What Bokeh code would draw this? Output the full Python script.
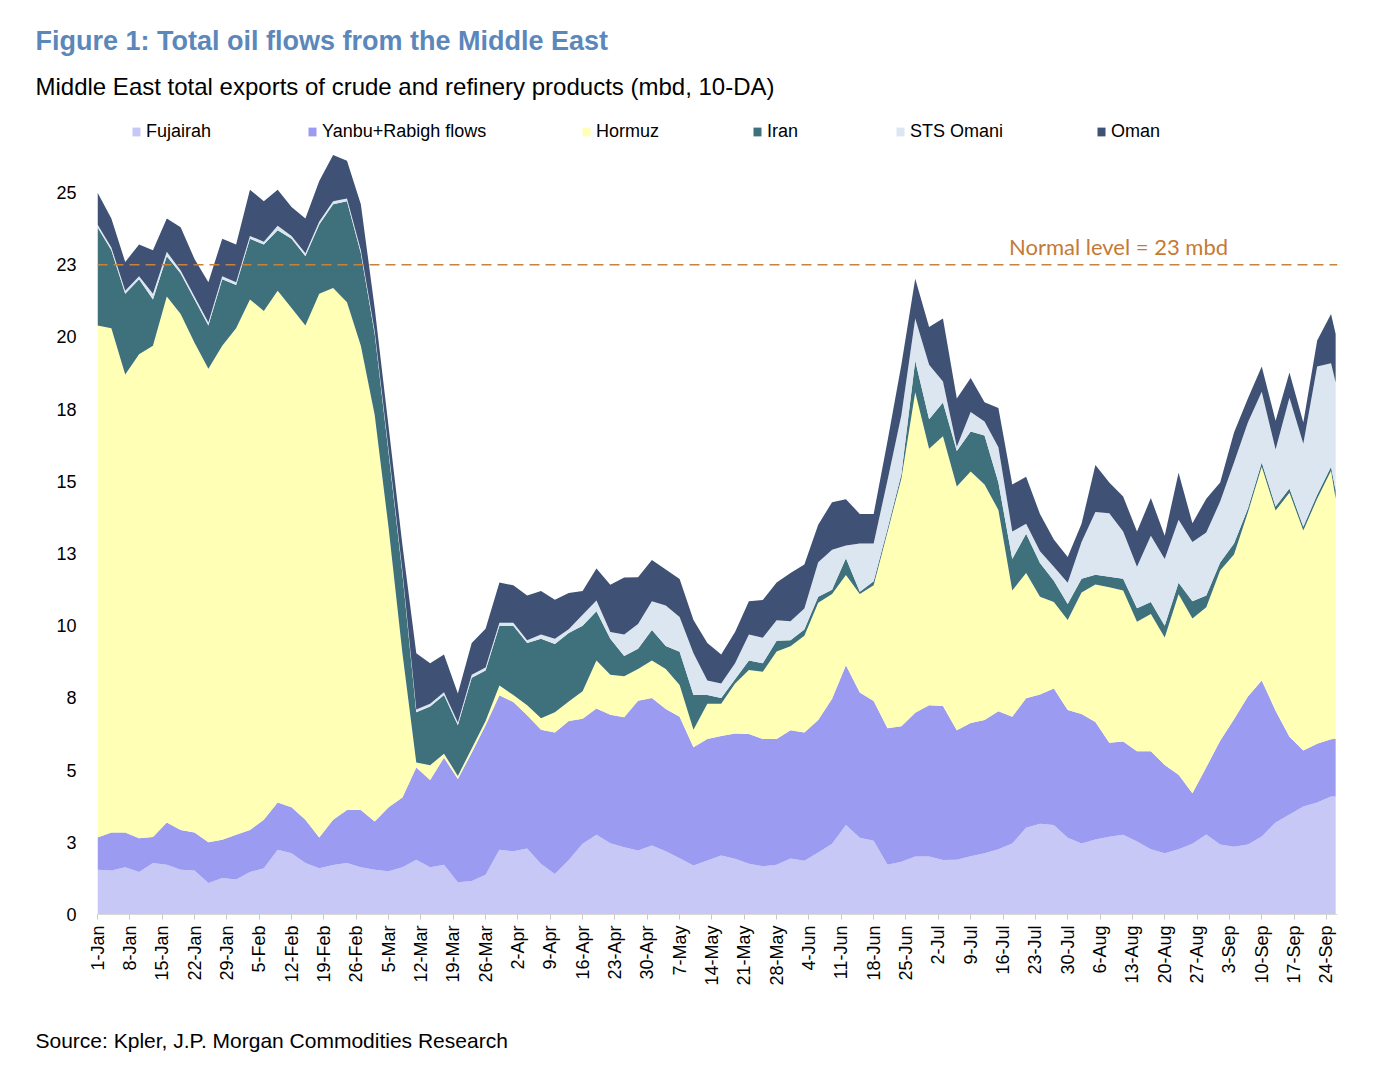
from math import pi
from bokeh.plotting import figure
from bokeh.models import (ColumnDataSource, Range1d, FixedTicker, Label, Legend,
                          LegendItem, Span, Title)
from bokeh.embed import file_html
from bokeh.resources import INLINE

# ---------------- data (mbd, 10-DA), every 3 days from 1-Jan ----------------
days = list(range(0, 268, 3)) + [268]   # days since 1-Jan

fujairah = [1.55, 1.52, 1.64, 1.47, 1.78, 1.72, 1.55, 1.52, 1.09, 1.26, 1.21, 1.47, 1.60, 2.24, 2.12, 1.78,
            1.60, 1.71, 1.78, 1.64, 1.55, 1.50, 1.64, 1.90, 1.64, 1.72, 1.12, 1.16, 1.38, 2.24, 2.19, 2.29,
            1.75, 1.40, 1.89, 2.45, 2.76, 2.47, 2.33, 2.22, 2.39, 2.19, 1.95, 1.70, 1.87, 2.04, 1.93, 1.76,
            1.67, 1.72, 1.94, 1.86, 2.15, 2.45, 3.10, 2.66, 2.55, 1.72, 1.83, 2.01, 2.01, 1.89, 1.90, 2.02,
            2.12, 2.26, 2.46, 3.00, 3.14, 3.10, 2.66, 2.46, 2.60, 2.69, 2.76, 2.53, 2.26, 2.12, 2.26, 2.45,
            2.77, 2.42, 2.35, 2.42, 2.70, 3.19, 3.46, 3.74, 3.88, 4.09,
            4.09]

yanbu_rabigh = [1.12, 1.32, 1.20, 1.17, 0.90, 1.47, 1.38, 1.32, 1.41, 1.33, 1.55, 1.46, 1.68, 1.64, 1.59, 1.50,
                1.07, 1.57, 1.84, 1.98, 1.67, 2.21, 2.41, 3.19, 3.02, 3.71, 3.57, 4.44, 5.17, 5.35, 5.17, 4.61,
                4.65, 4.90, 4.81, 4.33, 4.37, 4.45, 4.50, 5.18, 5.11, 4.93, 4.90, 4.09, 4.21, 4.14, 4.34, 4.49,
                4.41, 4.36, 4.44, 4.44, 4.59, 5.02, 5.53, 5.03, 4.84, 4.73, 4.69, 4.98, 5.24, 5.33, 4.48, 4.61,
                4.62, 4.78, 4.39, 4.49, 4.48, 4.73, 4.42, 4.48, 4.07, 3.26, 3.23, 3.12, 3.39, 3.06, 2.58, 1.75,
                2.33, 3.60, 4.41, 5.13, 5.40, 3.87, 2.70, 1.94, 2.03, 1.98,
                2.00]

hormuz = [17.73, 17.46, 15.86, 16.76, 17.02, 18.21, 17.87, 16.96, 16.40, 17.11, 17.54, 18.37, 17.62, 17.72, 17.29, 17.12,
          18.83, 18.42, 17.58, 16.08, 14.08, 9.69, 5.00, 0.17, 0.51, 0.14, 0.11, 0.15, 0.15, 0.34, 0.24, 0.35,
          0.40, 0.70, 0.68, 0.95, 1.67, 1.38, 1.42, 1.10, 1.30, 1.38, 1.10, 0.61, 1.22, 1.12, 1.73, 2.22,
          2.33, 3.03, 2.91, 3.35, 4.06, 3.63, 3.13, 3.41, 4.01, 6.80, 8.58, 11.10, 8.88, 9.34, 8.44, 8.71,
          8.15, 6.97, 4.37, 4.34, 3.38, 2.99, 3.12, 4.21, 4.76, 5.38, 5.23, 4.49, 4.76, 4.41, 6.25, 6.05,
          5.54, 5.89, 5.71, 6.37, 7.41, 6.93, 8.45, 7.62, 8.49, 9.30,
          8.31]

iran = [3.40, 2.70, 2.80, 2.60, 1.60, 1.40, 1.40, 1.50, 1.50, 2.30, 1.50, 2.10, 2.30, 2.10, 2.40, 2.40,
        2.40, 2.90, 3.50, 3.20, 2.80, 2.60, 2.75, 1.74, 2.03, 2.03, 1.75, 2.45, 1.75, 2.07, 2.40, 2.15,
        2.75, 2.37, 2.37, 2.27, 1.70, 1.25, 0.70, 0.70, 1.05, 0.80, 1.15, 1.20, 0.30, 0.20, 0.15, 0.33,
        0.29, 0.37, 0.21, 0.22, 0.20, 0.15, 0.58, 0.08, 0.14, 0.11, 0.15, 1.09, 1.02, 1.17, 1.23, 1.39,
        1.70, 0.95, 1.09, 1.36, 1.17, 0.74, 0.55, 0.48, 0.34, 0.37, 0.41, 0.47, 0.41, 0.41, 0.40, 0.60,
        0.41, 0.28, 0.38, 0.14, 0.14, 0.14, 0.14, 0.13, 0.14, 0.14,
        0.28]

sts_omani = [0.10, 0.10, 0.10, 0.10, 0.20, 0.15, 0.10, 0.10, 0.10, 0.10, 0.10, 0.10, 0.10, 0.15, 0.10, 0.10,
             0.10, 0.10, 0.10, 0.10, 0.10, 0.10, 0.10, 0.10, 0.10, 0.10, 0.10, 0.10, 0.10, 0.10, 0.10, 0.10,
             0.15, 0.18, 0.13, 0.38, 0.37, 0.23, 0.75, 0.86, 1.00, 1.40, 1.20, 1.45, 0.50, 0.50, 0.55, 0.90,
             0.88, 0.71, 0.66, 0.73, 1.20, 1.38, 0.44, 1.67, 1.31, 1.68, 2.04, 1.46, 1.89, 0.73, 0.15, 0.67,
             0.48, 1.22, 0.95, 0.34, 0.41, 0.48, 0.74, 1.27, 2.17, 2.20, 1.63, 1.43, 2.30, 2.31, 2.18, 2.05,
             2.18, 2.11, 2.80, 2.98, 2.45, 1.97, 3.15, 2.87, 4.44, 3.58,
             3.74]

oman = [1.10, 1.00, 1.00, 1.10, 1.50, 1.15, 1.50, 1.30, 1.40, 1.30, 1.30, 1.60, 1.40, 1.25, 1.00, 1.20,
        1.40, 1.60, 1.30, 1.60, 0.80, 0.80, 0.90, 1.95, 1.40, 1.30, 1.00, 1.10, 1.35, 1.40, 1.30, 1.55,
        1.50, 1.35, 1.25, 0.82, 1.11, 1.64, 1.97, 1.62, 1.43, 1.25, 1.32, 1.15, 1.30, 1.00, 1.08, 1.15,
        1.31, 1.31, 1.67, 1.52, 1.30, 1.65, 1.60, 1.02, 1.02, 1.36, 1.75, 1.38, 1.31, 2.18, 1.67, 1.18,
        0.67, 1.36, 1.63, 1.63, 1.29, 0.95, 0.89, 0.63, 1.63, 1.06, 1.22, 1.22, 1.30, 0.81, 1.63, 0.65,
        1.17, 0.66, 1.04, 0.83, 0.88, 1.00, 0.87, 0.74, 0.90, 1.71,
        1.68]

series_keys = ["fujairah", "yanbu", "hormuz", "iran", "sts", "oman"]
series_names = ["Fujairah", "Yanbu+Rabigh flows", "Hormuz", "Iran", "STS Omani", "Oman"]
series_colors = ["#c8c8f6", "#9b9bf1", "#ffffb6", "#3e717b", "#dce6f1", "#3f5174"]

tick_days = list(range(0, 267, 7))
tick_labels = ["1-Jan", "8-Jan", "15-Jan", "22-Jan", "29-Jan", "5-Feb", "12-Feb", "19-Feb", "26-Feb",
               "5-Mar", "12-Mar", "19-Mar", "26-Mar", "2-Apr", "9-Apr", "16-Apr", "23-Apr", "30-Apr",
               "7-May", "14-May", "21-May", "28-May", "4-Jun", "11-Jun", "18-Jun", "25-Jun", "2-Jul",
               "9-Jul", "16-Jul", "23-Jul", "30-Jul", "6-Aug", "13-Aug", "20-Aug", "27-Aug", "3-Sep",
               "10-Sep", "17-Sep", "24-Sep"]
y_ticks = [0, 2.5, 5, 7.5, 10, 12.5, 15, 17.5, 20, 22.5, 25]
y_tick_labels = ["0", "3", "5", "8", "10", "13", "15", "18", "20", "23", "25"]

normal_level = 22.5          # drawn at the "23" tick of the axis
normal_text = "Normal level = 23 mbd"

title_text = "Figure 1: Total oil flows from the Middle East"
subtitle_text = "Middle East total exports of crude and refinery products (mbd, 10-DA)"
source_text = "Source: Kpler, J.P. Morgan Commodities Research"

# ---------------- figure ----------------
FONT = "Liberation Sans"
FW, FH = 1240, 814
BL, BT, BR = 97, 100, 51
W, H = BL + FW + BR, 1060

src = ColumnDataSource(dict(day=days, fujairah=fujairah, yanbu=yanbu_rabigh, hormuz=hormuz,
                            iran=iran, sts=sts_omani, oman=oman))

p = figure(width=W, height=H, output_backend="svg", toolbar_location=None,
           x_range=Range1d(0, 268.4), y_range=Range1d(0, 28.19),
           min_border_left=BL, min_border_right=BR,
           min_border_top=BT, min_border_bottom=H - BT - FH)
p.outline_line_color = None
p.xgrid.visible = False
p.ygrid.visible = False
p.background_fill_color = "white"
p.border_fill_color = "white"

rs = p.varea_stack(stackers=series_keys, x="day", source=src, color=series_colors)

# axes
xa = p.xaxis[0]
xa.ticker = FixedTicker(ticks=tick_days)
xa.major_label_overrides = {d: l for d, l in zip(tick_days, tick_labels)}
xa.major_label_orientation = pi / 2
xa.axis_line_color = "#d9d9d9"
xa.major_tick_line_color = "#c8c8c8"
xa.major_tick_out = 5
xa.major_tick_in = 0
xa.minor_tick_line_color = None
xa.major_label_text_font = FONT
xa.major_label_text_font_size = "18px"
xa.major_label_text_color = "#000000"
xa.major_label_standoff = 6

ya = p.yaxis[0]
ya.ticker = FixedTicker(ticks=y_ticks)
ya.major_label_overrides = {t: l for t, l in zip(y_ticks, y_tick_labels)}
ya.axis_line_color = None
ya.major_tick_line_color = None
ya.minor_tick_line_color = None
ya.major_label_text_font = FONT
ya.major_label_text_font_size = "18px"
ya.major_label_text_color = "#000000"
ya.major_label_standoff = 15

# normal level
p.add_layout(Span(location=normal_level, dimension="width", line_color="#c8823c",
                  line_dash="10 6", line_width=1.6))
p.add_layout(Label(x=221, y=23.15, text=normal_text, text_align="center", text_baseline="middle",
                   text_font="Lato", text_font_size="22px", text_color="#c47a34"))

# legend: one entry per box, spaced as in the reference
leg_x = [34, 210, 484, 655, 798, 999]
for r, name, lx in zip(rs, series_names, leg_x):
    lg = Legend(items=[LegendItem(label=name, renderers=[r])], location=(lx, 772),
                orientation="horizontal", padding=0, margin=0, spacing=0,
                border_line_color=None, background_fill_alpha=0,
                glyph_width=10, glyph_height=11, label_standoff=5, label_height=20,
                label_text_font=FONT, label_text_font_size="18px", label_text_color="#000000")
    p.add_layout(lg)

# titles (first added sits closest to the plot)
p.add_layout(Title(text=subtitle_text, align="left", vertical_align="middle", offset=-62,
                   standoff=0, text_font=FONT, text_font_size="24px",
                   text_font_style="normal", text_color="#000000"), "above")
p.add_layout(Title(text=title_text, align="left", vertical_align="middle", offset=-62,
                   standoff=30, text_font=FONT, text_font_size="27px",
                   text_font_style="bold", text_color="#5b87bb"), "above")
# blank spacer below the axis, then the source line
p.add_layout(Title(text=" ", align="left", standoff=29, text_font=FONT,
                   text_font_size="2px"), "below")
p.add_layout(Title(text=source_text, align="left", vertical_align="middle", offset=-62,
                   standoff=12, text_font=FONT, text_font_size="21px",
                   text_font_style="normal", text_color="#000000"), "below")

open("out.html", "w").write(file_html(p, INLINE))
